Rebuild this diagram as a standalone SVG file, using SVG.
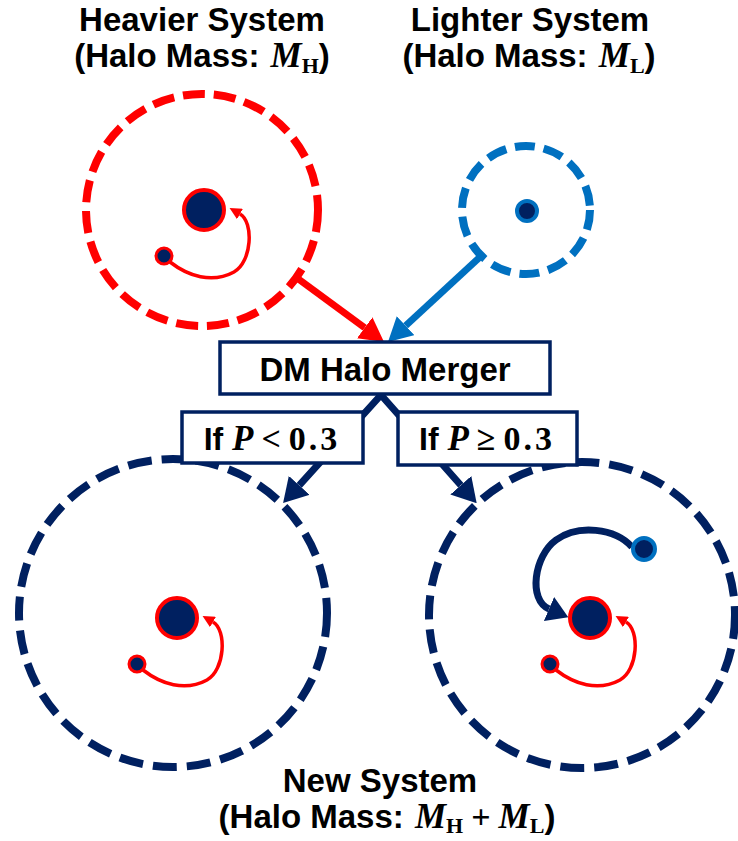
<svg xmlns="http://www.w3.org/2000/svg" width="738" height="841" viewBox="0 0 738 841">
<style>
.t{font-family:"Liberation Sans",Arial,sans-serif;font-weight:bold;font-size:33px;fill:#000;text-anchor:middle}
.bt{font-family:"Liberation Sans",Arial,sans-serif;font-weight:bold;font-size:33px;fill:#000;text-anchor:middle}
.ct{font-family:"Liberation Sans",Arial,sans-serif;font-weight:bold;font-size:32px;fill:#000;text-anchor:middle}
.m{font-family:"Liberation Serif","DejaVu Serif",serif;font-style:italic;font-weight:bold;font-size:35px}
.r{font-family:"Liberation Serif","DejaVu Serif",serif;font-weight:bold;font-size:34px}
.sub{font-family:"Liberation Serif","DejaVu Serif",serif;font-weight:bold;font-size:22px}
.box{fill:#fff;stroke:#002060;stroke-width:3.5}
.halo{fill:none;stroke-width:8}
.big{fill:#002060;stroke:#FF0000;stroke-width:4}
.small{fill:#002060;stroke:#FF0000;stroke-width:3}
.bdot{fill:#002060;stroke:#0070C0;stroke-width:4}
.orbit{fill:none;stroke:#FF0000;stroke-width:3.5;marker-end:url(#ahRedS)}
</style>
<defs>
<marker id="ahRed" markerUnits="userSpaceOnUse" markerWidth="24" markerHeight="26" viewBox="0 0 24 26" refX="0" refY="13" orient="auto"><path d="M0,0 L24,13 L0,26 z" fill="#FF0000"/></marker>
<marker id="ahBlue" markerUnits="userSpaceOnUse" markerWidth="24" markerHeight="26" viewBox="0 0 24 26" refX="0" refY="13" orient="auto"><path d="M0,0 L24,13 L0,26 z" fill="#0070C0"/></marker>
<marker id="ahNavy" markerUnits="userSpaceOnUse" markerWidth="24" markerHeight="28" viewBox="0 0 24 28" refX="0" refY="14" orient="auto"><path d="M0,0 L24,14 L0,28 z" fill="#002060"/></marker>
<marker id="ahNavyStart" markerUnits="userSpaceOnUse" markerWidth="24" markerHeight="28" viewBox="0 0 24 28" refX="0" refY="14" orient="auto-start-reverse"><path d="M0,0 L24,14 L0,28 z" fill="#002060"/></marker>
<marker id="ahNavyS" markerUnits="userSpaceOnUse" markerWidth="21" markerHeight="26" viewBox="0 0 21 26" refX="0" refY="13" orient="auto"><path d="M0,0 L21,13 L0,26 z" fill="#002060"/></marker>
<marker id="ahRedS" markerUnits="userSpaceOnUse" markerWidth="12" markerHeight="12" viewBox="0 0 12 12" refX="0" refY="6" orient="auto"><path d="M0,0 L12,6 L0,12 z" fill="#FF0000"/></marker>
<g id="binary">
<path class="orbit" d="M-34,52 C-16,66 8,74 30,62 C48,52 50,12 36,4"/>
<circle class="small" cx="-40" cy="46" r="8"/>
<circle class="big" cx="0" cy="0" r="20"/>
</g>
</defs>
<rect width="738" height="841" fill="#fff"/>

<g id="heavier">
<circle class="halo" cx="202" cy="210" r="116" stroke="#FF0000" stroke-dasharray="22 9"/>
<use href="#binary" x="204" y="210"/>
<text class="t" x="202" y="31">Heavier System</text>
<text class="t" x="202" y="67">(Halo Mass: <tspan class="m" dx="2">M</tspan><tspan class="sub" dy="6">H</tspan><tspan dy="-6">)</tspan></text>
</g>

<g id="lighter">
<circle class="halo" cx="526" cy="210" r="64" stroke="#0070C0" stroke-width="7" stroke-dasharray="20 9"/>
<circle class="bdot" cx="527" cy="211" r="10"/>
<text class="t" x="530" y="31">Lighter System</text>
<text class="t" x="529" y="67">(Halo Mass: <tspan class="m" dx="2">M</tspan><tspan class="sub" dy="6">L</tspan><tspan dy="-6">)</tspan></text>
</g>

<g id="new-left">
<circle class="halo" cx="173" cy="613" r="154" stroke="#002060" stroke-dasharray="24 10"/>
<use href="#binary" x="177" y="618"/>
</g>

<g id="new-right">
<circle class="halo" cx="582" cy="615" r="153" stroke="#002060" stroke-dasharray="24 10"/>
<use href="#binary" x="590" y="618"/>
<path d="M632,547 C615,528 578,524 556,540 C534,556 528,600 549,609" fill="none" stroke="#002060" stroke-width="7" marker-end="url(#ahNavyS)"/>
<circle class="bdot" cx="644" cy="549" r="11"/>
</g>

<g id="connectors">
<path d="M297,278 L364.7,327.8" stroke="#FF0000" stroke-width="7" fill="none" marker-end="url(#ahRed)"/>
<path d="M480,257 L405.6,325.7" stroke="#0070C0" stroke-width="7" fill="none" marker-end="url(#ahBlue)"/>
<path d="M299.2,485.3 L381,395 L460.8,485.3" stroke="#002060" stroke-width="7" fill="none" stroke-linejoin="miter" marker-start="url(#ahNavyStart)" marker-end="url(#ahNavy)"/>
</g>

<g id="merger">
<rect class="box" x="220" y="342" width="330" height="52"/>
<text class="bt" x="385" y="381">DM Halo Merger</text>
</g>

<g id="cond-low">
<rect class="box" x="182" y="412" width="181" height="51"/>
<text class="ct" x="272" y="450">If <tspan class="m">P</tspan><tspan class="r" dx="8">&lt;</tspan><tspan class="r" dx="8" letter-spacing="3">0.3</tspan></text>
</g>

<g id="cond-high">
<rect class="box" x="398" y="412" width="179" height="53"/>
<text class="ct" x="487" y="450">If <tspan class="m">P</tspan><tspan class="r" dx="8">≥</tspan><tspan class="r" dx="8" letter-spacing="3">0.3</tspan></text>
</g>

<g id="new-label">
<text class="t" x="380" y="792">New System</text>
<text class="t" x="387" y="828">(Halo Mass: <tspan class="m" dx="2">M</tspan><tspan class="sub" dy="5">H</tspan><tspan class="r" dy="-5" dx="8">+</tspan><tspan class="m" dx="8">M</tspan><tspan class="sub" dy="5">L</tspan><tspan dy="-5">)</tspan></text>
</g>
</svg>
